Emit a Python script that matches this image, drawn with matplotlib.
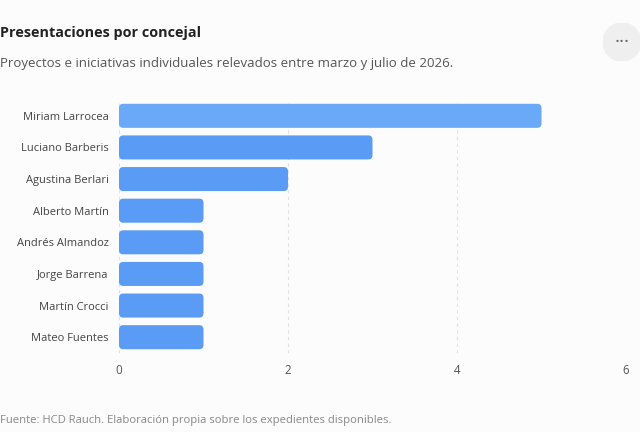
import matplotlib.pyplot as plt
from matplotlib.patches import FancyBboxPatch, Circle

# ------------------------------
# Data
# ------------------------------

concejales = [
    "Miriam Larrocea",
    "Luciano Barberis",
    "Agustina Berlari",
    "Alberto Martín",
    "Andrés Almandoz",
    "Jorge Barrena",
    "Martín Crocci",
    "Mateo Fuentes",
]
presentaciones = [5, 3, 2, 1, 1, 1, 1, 1]
x_ticks = [0, 2, 4, 6]

plt.rcParams["font.family"] = ["Open Sans", "DejaVu Sans"]

bg = "#fcfcfc"
fig = plt.figure(figsize=(6.4, 4.32), dpi=100, facecolor=bg)
ax = fig.add_axes([119 / 640, 1 - 353 / 432, 507 / 640, 253 / 432])
ax.set_facecolor(bg)

y = list(range(len(concejales)))
bars = ax.barh(y, presentaciones, height=0.76, color="none")

# rounded bars built from the bar geometry
colors = ["#6aa8f8"] + ["#5a9cf5"] * (len(concejales) - 1)
for b, c in zip(bars, colors):
    x0, y0 = b.get_x(), b.get_y()
    w, h = b.get_width(), b.get_height()
    patch = FancyBboxPatch((x0, y0), w, h,
                           boxstyle="round,pad=0,rounding_size=0.05",
                           mutation_aspect=2.7,
                           facecolor=c, edgecolor="none", zorder=3)
    ax.add_patch(patch)

ax.set_xlim(0, 6)
ax.set_ylim(len(concejales) - 0.5, -0.5)
ax.set_yticks(y)
ax.set_yticklabels(concejales, fontsize=8, color="#444444")
ax.set_xticks(x_ticks)
ax.set_xticklabels([str(t) for t in x_ticks], fontsize=8.3, color="#555555")
ax.tick_params(length=0)
ax.tick_params(axis="y", pad=7.5)
ax.tick_params(axis="x", pad=8)

for s in ax.spines.values():
    s.set_visible(False)

ax.grid(axis="x", color="#e0e0e0", linestyle=(0, (3, 3)), linewidth=0.8)
ax.set_axisbelow(True)

# ------------------------------
# Texts
# ------------------------------

fig.text(0 / 640, 1 - 33 / 432, "Presentaciones por concejal",
         fontsize=10.4, fontweight="bold", color="#222222", va="center")
fig.text(0 / 640, 1 - 63 / 432,
         "Proyectos e iniciativas individuales relevados entre marzo y julio de 2026.",
         fontsize=9.55, color="#555555", va="center")
fig.text(0 / 640, 1 - 421 / 432,
         "Fuente: HCD Rauch. Elaboración propia sobre los expedientes disponibles.",
         fontsize=8.1, color="#888888", va="center")

# menu button
btn = fig.add_axes([603 / 640, 1 - 61 / 432, 38 / 640, 38 / 432])
btn.set_xlim(-1, 1)
btn.set_ylim(-1, 1)
btn.set_aspect("equal")
btn.axis("off")
btn.add_patch(Circle((0, 0), 1, color="#efefef"))
btn.text(0, 0.0, "···", ha="center", va="center", fontsize=14,
         color="#666666")

plt.savefig("out.png", dpi=100, facecolor=bg)
